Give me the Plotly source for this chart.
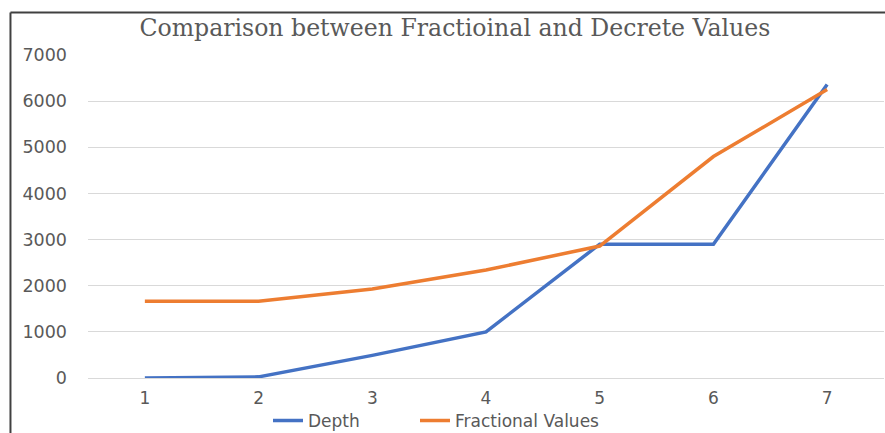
import plotly.graph_objects as go

categories = [1, 2, 3, 4, 5, 6, 7]
depth = [0, 25, 490, 1000, 2900, 2900, 6360]
fractional = [1665, 1665, 1930, 2340, 2860, 4800, 6250]
y_ticks = [0, 1000, 2000, 3000, 4000, 5000, 6000, 7000]

fig = go.Figure()
fig.add_trace(go.Scatter(x=categories, y=depth, mode="lines", name="Depth",
                         line=dict(color="#4472C4", width=3.5), legend="legend"))
fig.add_trace(go.Scatter(x=categories, y=fractional, mode="lines", name="Fractional Values",
                         line=dict(color="#ED7D31", width=3.5), legend="legend2"))

legend_font = dict(family="DejaVu Sans", size=17, color="#595959")

fig.update_layout(
    width=885, height=433,
    margin=dict(l=88, r=1, t=55, b=55, autoexpand=False),
    paper_bgcolor="white", plot_bgcolor="white",
    title=dict(text="Comparison between Fractioinal and Decrete Values",
               x=0.514, xanchor="center", y=0.935, yanchor="middle",
               font=dict(family="DejaVu Serif", size=23.6, color="#595959")),
    xaxis=dict(range=[0.5, 7.5], tickvals=categories, showgrid=False, zeroline=False,
               showline=False, ticks="", automargin=False, ticklabelstandoff=8,
               tickfont=dict(family="DejaVu Sans", size=17, color="#595959")),
    yaxis=dict(range=[0, 7000], tickvals=y_ticks, showgrid=True, gridcolor="#d9d9d9",
               gridwidth=1, zeroline=True, zerolinecolor="#d9d9d9", zerolinewidth=1,
               ticks="", automargin=False, ticklabelstandoff=20,
               tickfont=dict(family="DejaVu Sans", size=17.5, color="#595959")),
    showlegend=True,
    legend=dict(orientation="h", x=(268 - 88) / 796, xanchor="left", y=-0.133, yanchor="middle",
                font=legend_font, bgcolor="rgba(0,0,0,0)"),
    legend2=dict(orientation="h", x=(415 - 88) / 796, xanchor="left", y=-0.133, yanchor="middle",
                 font=legend_font, bgcolor="rgba(0,0,0,0)"),
    shapes=[
        dict(type="line", xref="paper", yref="paper", x0=-0.0974, x1=1.01, y0=1.1316, y1=1.1316,
             line=dict(color="#404040", width=2)),
        dict(type="line", xref="paper", yref="paper", x0=-0.0974, x1=-0.0974, y0=1.1316, y1=-0.2,
             line=dict(color="#404040", width=2)),
    ],
)

fig.write_html("out.html", config={"displayModeBar": False},
               post_script="document.body.style.margin='0';document.body.style.padding='0';")
